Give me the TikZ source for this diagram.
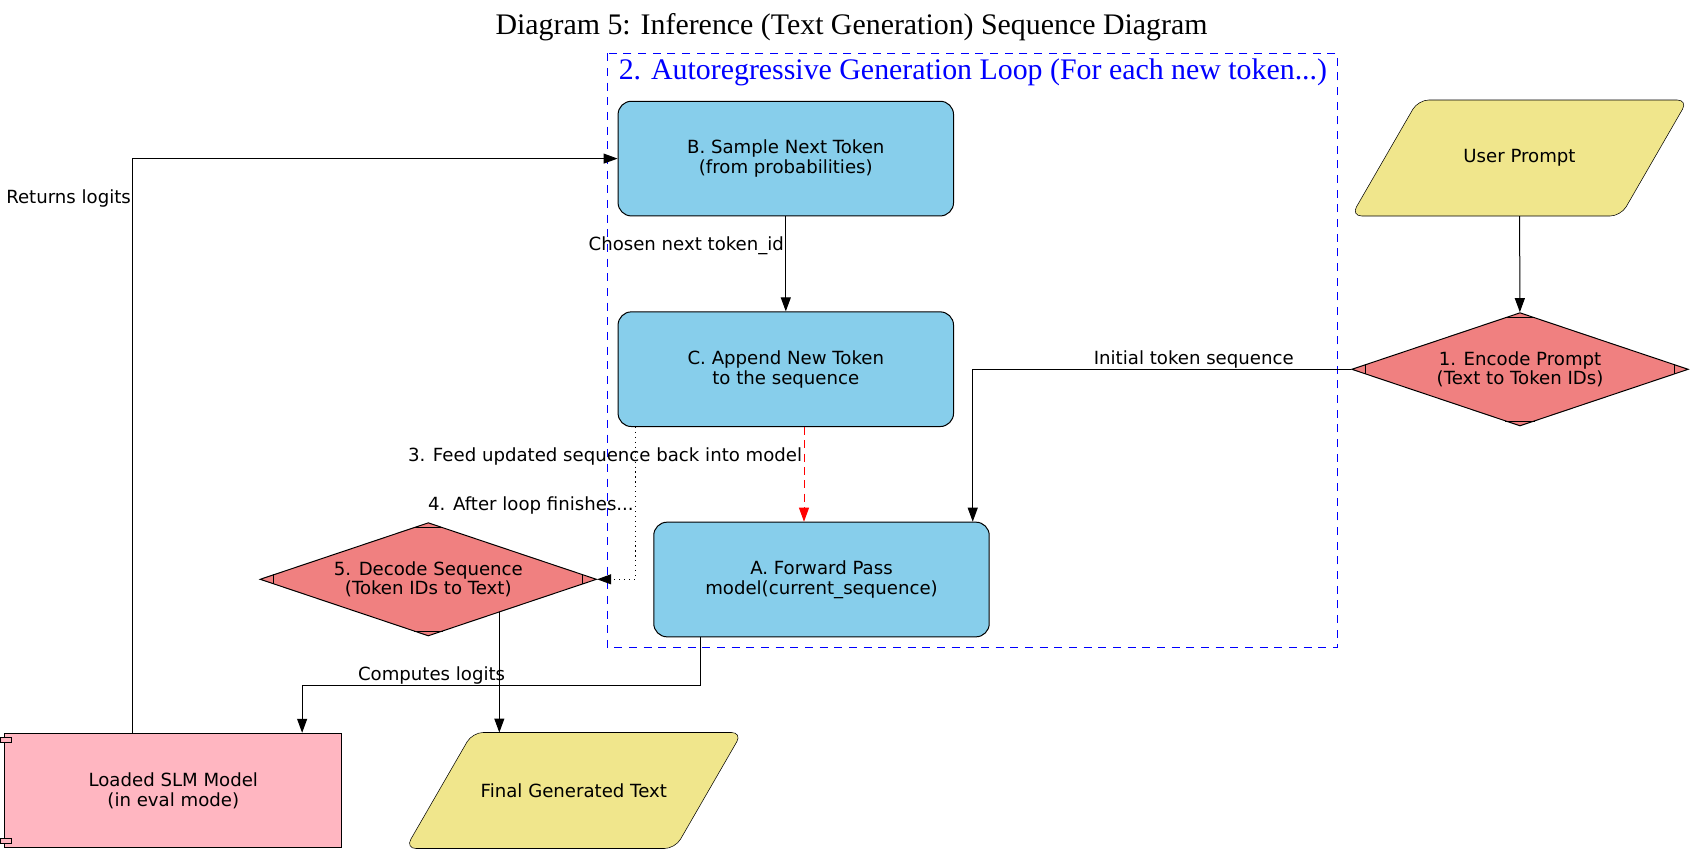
\documentclass[tikz,border=0pt]{standalone}
\usepackage{fontspec}
\setmainfont{DejaVu Sans}
\newfontfamily\captionserif{Liberation Serif}
\usepackage{tikz}
\usetikzlibrary{arrows.meta,shapes}
\usetikzlibrary{positioning}
\usetikzlibrary{calc,backgrounds}
\definecolor{skyblue}{HTML}{87CEEB}
\definecolor{khaki}{HTML}{F0E68C}
\definecolor{lightcoral}{HTML}{F08080}
\definecolor{lightpink}{HTML}{FFB6C1}
\tikzset{
    stepbox/.style={draw=black, fill=skyblue, rounded corners=10pt, align=center,
        minimum width=251.6pt, minimum height=86pt, inner sep=0pt},
    codec/.style={diamond, aspect=3, draw=black, fill=lightcoral, align=center,
        minimum width=252.5pt, minimum height=85pt, inner sep=0pt},
    iobox/.style={align=center, minimum width=252.5pt, minimum height=87pt,
        inner sep=0pt, outer sep=0pt},
    iofill/.style={draw=black, fill=khaki, rounded corners=8pt},
    modelbox/.style={draw=black, fill=lightpink, align=center,
        minimum width=252.5pt, minimum height=85.8pt, inner sep=0pt},
    edgelabel/.style={inner xsep=1pt, inner ysep=0.5pt, text=black},
    loopframe/.style={draw=blue, dash pattern=on 6pt off 5pt},
    feedline/.style={draw=red, dash pattern=on 6pt off 4pt},
    doneline/.style={draw=black, dash pattern=on 0.9pt off 2.8pt},
}
\begin{document}
\begin{tikzpicture}[x=0.75pt, y=-0.75pt, line width=0.75pt,
    >={Triangle[length=10.5pt,width=7.5pt]}, font=\fontsize{13.6}{14.8}\selectfont]
    \useasboundingbox (0,0) rectangle (1703,853);
    \node[font=\captionserif\fontsize{22.4}{26}\selectfont] (title) at (851.5,27)
        {Diagram 5: Inference (Text Generation) Sequence Diagram};
    %
    \draw[loopframe] (607.4,53.3) rectangle (1337.7,647.7);
    \node[anchor=base west, inner sep=0pt, text=blue,
        font=\captionserif\fontsize{22.4}{26}\selectfont] (looptitle) at (618.3,79)
        {2. Autoregressive Generation Loop (For each new token...)};
    %
    \node[stepbox] (B) at (785.8,158.6) {B. Sample Next Token\\(from probabilities)};
    \node[stepbox] (C) at (785.8,369.2) {C. Append New Token\\to the sequence};
    \node[stepbox] (A) at (821.5,579.5) {A. Forward Pass\\model(current\_sequence)};
    %
    \node[iobox] (U) at (1519.5,158) {User Prompt};
    \node[codec] (E) at (1520,369.3) {1. Encode Prompt\\(Text to Token IDs)};
    \node[codec] (D) at (428.3,579.3) {5. Decode Sequence\\(Token IDs to Text)};
    \node[iobox] (F) at (573.8,790.5) {Final Generated Text};
    \node[modelbox] (M) at (173.3,790.5) {Loaded SLM Model\\(in eval mode)};
    %
    \begin{scope}[on background layer]
        \foreach \n in {U,F}
            \draw[iofill] (\n.south west) -- ([xshift=50.25pt]\n.north west)
                -- (\n.north east) -- ([xshift=-50.25pt]\n.south east) -- cycle;
    \end{scope}
    \foreach \d in {D,E} {
        \draw ($(\d.north)!11.5pt!(\d.west)$) -- ($(\d.north)!11.5pt!(\d.east)$);
        \draw ($(\d.south)!11.5pt!(\d.west)$) -- ($(\d.south)!11.5pt!(\d.east)$);
        \draw ($(\d.west)!11.5pt!(\d.north)$) -- ($(\d.west)!11.5pt!(\d.south)$);
        \draw ($(\d.east)!11.5pt!(\d.north)$) -- ($(\d.east)!11.5pt!(\d.south)$);
    }
    \draw[fill=lightpink] ([xshift=-2.8pt,yshift=-3.6pt]M.north west) rectangle ([xshift=5pt,yshift=-7.4pt]M.north west);
    \draw[fill=lightpink] ([xshift=-2.8pt,yshift=7.4pt]M.south west) rectangle ([xshift=5pt,yshift=3.6pt]M.south west);
    %
    \coordinate (feed) at ([xshift=13.65pt]C.south);
    \coordinate (done) at ([xshift=13.5pt]C.south west);
    \coordinate (fwdout) at ([xshift=35.4pt]A.south west);
    \coordinate (logitsin) at ([xshift=-30pt]M.north east);
    \coordinate (logitsout) at ([xshift=96.2pt]M.north west);
    %
    \draw[->] (U) -- (E);
    \draw[->] (E.west) -| node[edgelabel, pos=0.208, above] {Initial token sequence} ([xshift=-12.75pt]A.north east);
    \draw[->] (B) -- node[edgelabel, pos=0.3125, left] {Chosen next token\_id} (C);
    \draw[->, feedline] (feed) -- node[edgelabel, pos=0.3125, left] {3. Feed updated sequence back into model} (feed |- A.north);
    \draw[->, doneline] (done) |- node[edgelabel, pos=0.257, left] {4. After loop finishes...} (D.east);
    \draw[->] (fwdout) -- ++(0,48) -| node[edgelabel, pos=0.3375, above] {Computes logits} (logitsin);
    \draw[->] (logitsout) |- node[edgelabel, pos=0.465, left] {Returns logits} (B.west);
    \draw[->] (D.-25.6) -- (D.-25.6 |- F.north);
\end{tikzpicture}
\end{document}
